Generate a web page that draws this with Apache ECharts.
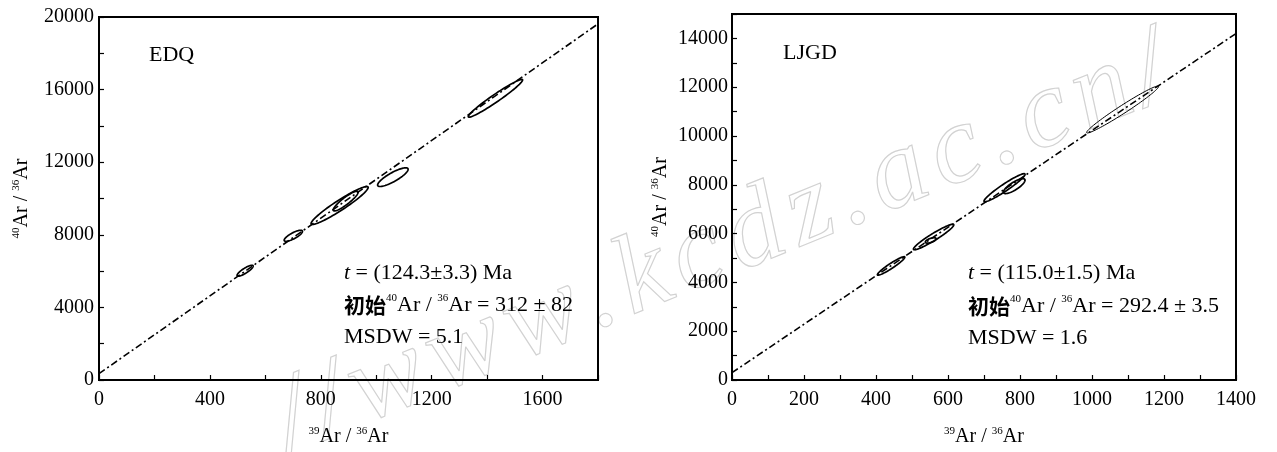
<!DOCTYPE html>
<html><head><meta charset="utf-8">
<script src="https://cdn.jsdelivr.net/npm/echarts@6/dist/echarts.min.js"></script>
<style>html,body{margin:0;padding:0;background:#fff}#c{width:1277px;height:452px}</style>
</head><body><div id="c"></div>
<script>
// ---- data ----
// EDQ panel: isochron ellipses [centre x, centre y, half range x, half range y, correlation]
const edqCx  = [527, 701, 868, 890, 1060, 1430];
const edqCy  = [6020, 7945, 9615, 9860, 11175, 15520];
const edqDx  = [29, 33, 103, 45, 55, 98];
const edqDy  = [300, 305, 1045, 545, 515, 1040];
const edqRho = [0.85, 0.80, 0.95, 0.90, 0.84, 0.97];
const edqLineX = [0, 1800];
const edqLineY = [350, 19620];
// LJGD panel
const ljgdCx  = [442, 560, 552, 757, 784, 1085];
const ljgdCy  = [4675, 5860, 5720, 7880, 7945, 11085];
const ljgdDx  = [38, 56, 15, 57, 30, 100];
const ljgdDy  = [378, 522, 110, 575, 305, 962];
const ljgdRho = [0.947, 0.948, 0.6, 0.954, 0.80, 0.979];
const ljgdLineX = [0, 1400];
const ljgdLineY = [300, 14200];
// axis settings
const edqXMax = 1800, edqXMinor = 200, edqXMajor = 400;
const edqYMax = 20000, edqYMinor = 2000, edqYMajor = 4000;
const ljgdXMax = 1400, ljgdXMinor = 100, ljgdXMajor = 200;
const ljgdYMax = 15000, ljgdYMinor = 1000, ljgdYMajor = 2000;
const watermark = '//www.kcdz.ac.cn/';

const SERIF = "'Liberation Serif','Times New Roman',serif";
const CJK = "'Noto Sans CJK SC',sans-serif";

function zip(a,b,c,d,e){ return a.map((v,i)=>[v,b[i],c[i],d[i],e[i]]); }
function line(xs, ys){ return xs.map((v,i)=>[v, ys[i]]); }

function makeRender(thinIndex){
  return function(params, api){
    const cx=api.value(0), cy=api.value(1), dx=api.value(2), dy=api.value(3), r=api.value(4);
    const s=Math.sqrt(1-r*r);
    const pts=[];
    for(let k=0;k<=90;k++){
      const t=k/90*2*Math.PI;
      pts.push(api.coord([cx+dx*Math.cos(t), cy+dy*(r*Math.cos(t)+s*Math.sin(t))]));
    }
    return {type:'polygon', shape:{points:pts},
      style:{fill:'none', stroke:'#000', lineWidth: params.dataIndex===thinIndex ? 1.0 : 1.7}};
  };
}

const supRich = {
  b:{fontSize:20, fontFamily:SERIF, color:'#000', lineHeight:22},
  sup:{fontSize:11, fontFamily:SERIF, color:'#000', verticalAlign:'top', lineHeight:22}
};

function xAxis(idx, max, minor, major, gap){
  return {
    gridIndex: idx, type:'value', min:0, max:max, interval:minor,
    name:'{sup|39}{b|Ar / }{sup|36}{b|Ar}', nameLocation:'middle', nameGap:gap,
    nameTextStyle:{rich:supRich},
    axisLine:{show:false}, splitLine:{show:false},
    axisTick:{show:true, inside:true, length:5, lineStyle:{color:'#000', width:1.2}},
    axisLabel:{interval:0, showMinLabel:true, showMaxLabel:true, margin:10, color:'#000',
      fontFamily:SERIF, fontSize:20, formatter:v=> v % major === 0 ? String(v) : ''}
  };
}
function yAxis(idx, max, minor, major, gap, margin){
  return {
    gridIndex: idx, type:'value', min:0, max:max, interval:minor,
    name:'{sup|40}{b|Ar / }{sup|36}{b|Ar}', nameLocation:'middle', nameGap:gap, nameRotate:90,
    nameTextStyle:{rich:supRich},
    axisLine:{show:false}, splitLine:{show:false},
    axisTick:{show:true, inside:true, length:5, lineStyle:{color:'#000', width:1.2}},
    axisLabel:{interval:0, showMinLabel:true, showMaxLabel:true, margin:margin, color:'#000',
      fontFamily:SERIF, fontSize:20, formatter:v=> v % major === 0 ? String(v) : ''}
  };
}

const annRich = {
  n:{fontSize:22, fontFamily:SERIF, color:'#000'},
  i:{fontSize:22, fontFamily:SERIF, fontStyle:'italic', color:'#000'},
  cn:{fontSize:21, fontFamily:CJK, fontWeight:'bold', color:'#000'},
  sup:{fontSize:11, fontFamily:SERIF, color:'#000', verticalAlign:'top', lineHeight:24}
};
function ann(x, y, txt){
  return {type:'text', x:x, y:y, silent:true,
    style:{text:txt, rich:annRich, font:'22px '+SERIF, fill:'#000', verticalAlign:'middle', textVerticalAlign:'middle'}};
}

// watermark laid out character by character along a slanted baseline
function watermarkGraphics(){
  const font = 'italic 112px '+SERIF;
  const ctx = document.createElement('canvas').getContext('2d');
  ctx.font = font;
  const ang = 0.385, extra = 9;
  let d = 0; const out = [];
  for (const ch of watermark){
    const x = 300 + d*Math.cos(ang), y = 478 - d*Math.sin(ang);
    out.push({type:'text', x:x, y:y, rotation:ang, silent:true, z:-1,
      style:{text:ch, font:font, fill:'none', stroke:'#d2d2d2', lineWidth:1.2, verticalAlign:'bottom', textVerticalAlign:'bottom'}});
    d += ctx.measureText(ch).width + extra;
  }
  return out;
}

const chart = echarts.init(document.getElementById('c'), null, {renderer:'canvas'});
chart.setOption({
  animation:false,
  backgroundColor:'#fff',
  grid:[
    {left:99, top:17, width:499, height:367, show:true, borderColor:'#000', borderWidth:2, backgroundColor:'transparent'},
    {left:732, top:14, width:504, height:369, show:true, borderColor:'#000', borderWidth:2, backgroundColor:'transparent'}
  ],
  xAxis:[ xAxis(0, edqXMax, edqXMinor, edqXMajor, 46), xAxis(1, ljgdXMax, ljgdXMinor, ljgdXMajor, 46) ],
  yAxis:[ yAxis(0, edqYMax, edqYMinor, edqYMajor, 66, 5), yAxis(1, ljgdYMax, ljgdYMinor, ljgdYMajor, 60, 4) ],
  series:[
    {type:'line', xAxisIndex:0, yAxisIndex:0, data:line(edqLineX, edqLineY), symbol:'none',
      lineStyle:{color:'#000', width:1.6, type:[7,3,2,3]}},
    {type:'custom', xAxisIndex:0, yAxisIndex:0, renderItem:makeRender(-1), data:zip(edqCx,edqCy,edqDx,edqDy,edqRho), encode:{x:0,y:1}},
    {type:'line', xAxisIndex:1, yAxisIndex:1, data:line(ljgdLineX, ljgdLineY), symbol:'none',
      lineStyle:{color:'#000', width:1.6, type:[7,3,2,3]}},
    {type:'custom', xAxisIndex:1, yAxisIndex:1, renderItem:makeRender(5), data:zip(ljgdCx,ljgdCy,ljgdDx,ljgdDy,ljgdRho), encode:{x:0,y:1}}
  ],
  graphic: watermarkGraphics().concat([
    {type:'text', x:149, y:55, silent:true, style:{text:'EDQ', font:'22px '+SERIF, fill:'#000', verticalAlign:'middle', textVerticalAlign:'middle'}},
    {type:'text', x:783, y:53, silent:true, style:{text:'LJGD', font:'22px '+SERIF, fill:'#000', verticalAlign:'middle', textVerticalAlign:'middle'}},
    ann(344, 273, '{i|t}{n| = (124.3±3.3) Ma}'),
    ann(344, 305, '{cn|初始}{sup|40}{n|Ar / }{sup|36}{n|Ar = 312 ± 82}'),
    ann(344, 337, '{n|MSDW = 5.1}'),
    ann(968, 273, '{i|t}{n| = (115.0±1.5) Ma}'),
    ann(968, 306, '{cn|初始}{sup|40}{n|Ar / }{sup|36}{n|Ar = 292.4 ± 3.5}'),
    ann(968, 338, '{n|MSDW = 1.6}')
  ])
});
</script></body></html>
